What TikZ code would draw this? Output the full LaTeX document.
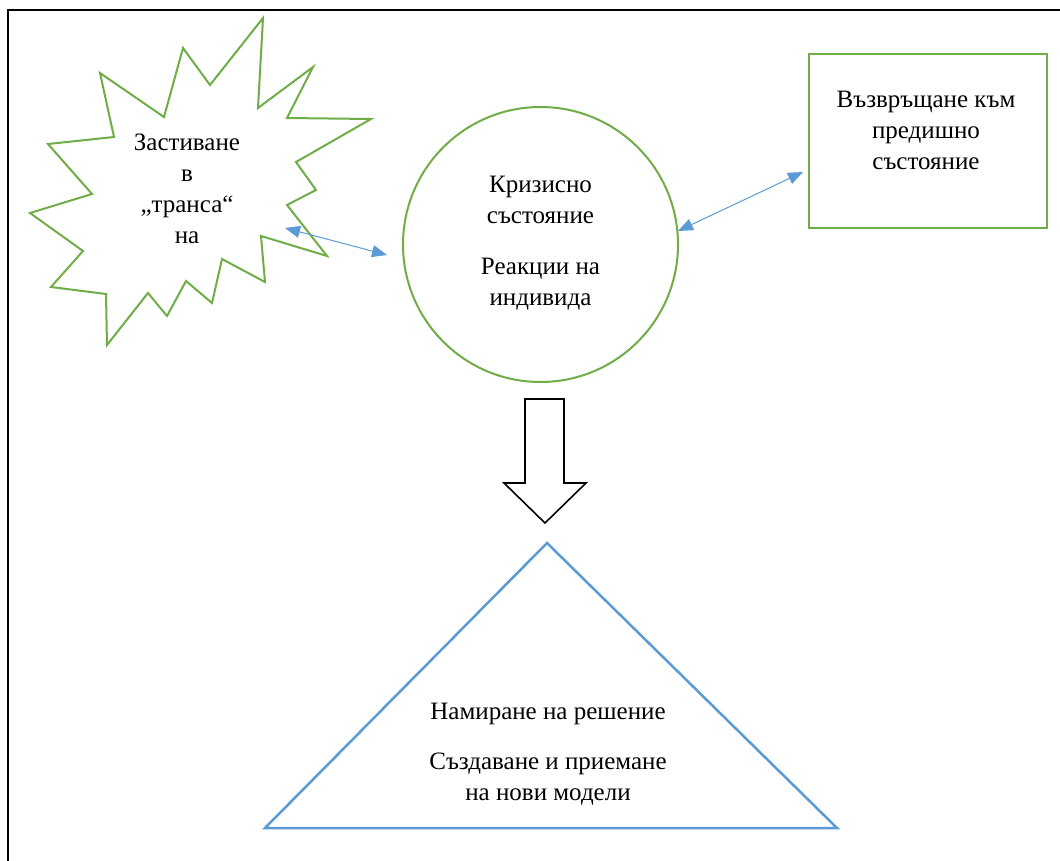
\documentclass[tikz,border=0pt]{standalone}
\usepackage{fontspec}
\setmainfont{Liberation Serif}
\usetikzlibrary{arrows.meta}
\definecolor{lgreen}{HTML}{70AD47}
\definecolor{lblue}{HTML}{5B9BD5}
\tikzset{
  frameline/.style={draw=black, line width=2.4pt},
  greenline/.style={draw=lgreen, line width=2pt},
  blueshape/.style={draw=lblue, line width=2.5pt},
  link/.style={draw=lblue, line width=1pt, {Triangle[length=15pt,width=12pt]}-{Triangle[length=15pt,width=12pt]}},
  txt/.style={align=center, font=\fontsize{25}{31}\selectfont, inner sep=0pt},
  blockarrow/.style={draw=black, fill=white, line width=1.6pt, line join=miter}
}
\begin{document}
\begin{tikzpicture}[x=1pt,y=-1pt]
\useasboundingbox (0,0) rectangle (1060,860);
\fill[white] (0,0) rectangle (1060,860);
% frame
\draw[frameline] (8,10) rectangle (1080,880);

% starburst
\draw[greenline, line join=miter] (263,18) -- (258,108) -- (313,67) -- (287,118) -- (371,119) -- (296,162)
  -- (316,190) -- (287,205) -- (327,256) -- (261,236) -- (265,282) -- (222,259) -- (212,303)
  -- (186,281) -- (167,316) -- (148,293) -- (107,345) -- (106,294) -- (51,287) -- (83,251)
  -- (30,213) -- (92,194) -- (48,144) -- (114,137) -- (100,73) -- (164,117) -- (183,48)
  -- (210,85) -- cycle;
\node[txt] (burst) at (187,189) {Застиване\\в\\„транса“\\на};

% circle
\node[greenline, circle, minimum size=275pt, inner sep=0pt] (crisis) at (540.5,244.5) {};
\node[txt] (crisistxt) at (540.5,243) {Кризисно\\състояние\\[20pt]Реакции на\\индивида};

% rectangle
\node[greenline, rectangle, minimum width=238pt, minimum height=174pt, inner sep=0pt] (back) at (928,141) {};
\node[txt] (backtxt) at (926,130) {Възвръщане към\\предишно\\състояние};

% connectors
\coordinate (b1) at (285,228);
\coordinate (c1) at (387,255);
\coordinate (c2) at (678,231);
\coordinate (r1) at (803,172);
\draw[link] (b1) -- (c1);
\draw[link] (c2) -- (r1);

% block arrow
\draw[blockarrow] (525,399) -- (564,399) -- (564,483) -- (586,483) -- (545,523) -- (504,483) -- (525,483) -- cycle;

% triangle
\coordinate (tA) at (547,543);
\coordinate (tL) at (265,828);
\coordinate (tR) at (837,828);
\draw[blueshape, line join=miter] (tA) -- (tR) -- (tL) -- cycle;
\node[txt] (soltxt) at (548,754) {Намиране на решение\\[19pt]Създаване и приемане\\на нови модели};
\end{tikzpicture}
\end{document}
